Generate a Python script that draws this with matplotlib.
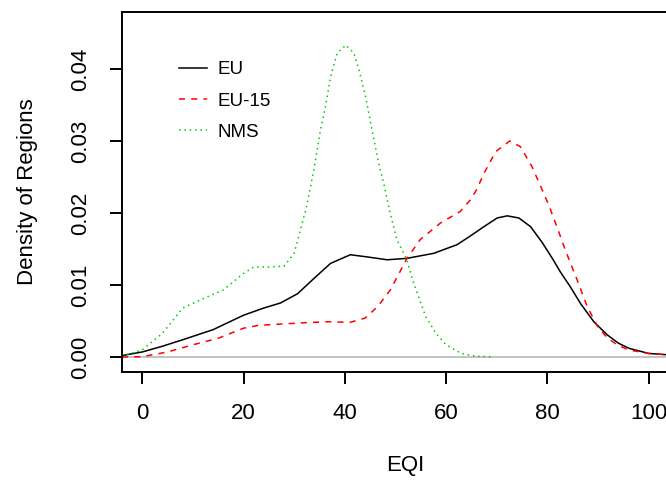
import matplotlib
matplotlib.use("Agg")
import matplotlib.pyplot as plt

plt.rcParams['font.family'] = ['Liberation Sans', 'DejaVu Sans']

# density curves
eu_x = [-4, 0, 4, 8, 14, 20, 24, 27.3, 30.7, 33.9, 37.2, 41.1, 44.4, 48.4, 52.3, 57.6,
        62.2, 64.8, 67.5, 70.1, 72.1, 74.4, 76.7, 79.0, 81.0, 82.6, 84.6, 86.6, 89.2,
        91.8, 94.1, 96.2, 100, 108]
eu_y = [0.0002, 0.0007, 0.0015, 0.0024, 0.0038, 0.0058, 0.0068, 0.0075, 0.0088, 0.0109,
        0.0130, 0.0142, 0.0139, 0.0135, 0.0137, 0.0144, 0.0156, 0.0168, 0.0181, 0.0193,
        0.0196, 0.0193, 0.0181, 0.0159, 0.0137, 0.0118, 0.0097, 0.0074, 0.0049, 0.0031,
        0.0019, 0.0012, 0.0005, 0.0001]

eu15_x = [-4, 0, 5, 10, 15, 20, 23, 28, 33, 37, 41, 44, 46.5, 49, 52.3, 54.9, 58.9,
          62.8, 64.8, 66.1, 67.5, 69.8, 72.6, 74.7, 77.0, 78.7, 80.3, 81.9, 83.6, 85.9,
          87.9, 89.9, 91.8, 93.8, 96, 100, 108]
eu15_y = [0.0, 0.00005, 0.0007, 0.0017, 0.0026, 0.0040, 0.0044, 0.0046, 0.0048, 0.0049,
          0.0048, 0.0054, 0.0070, 0.0093, 0.0137, 0.0163, 0.0186, 0.0202, 0.0218, 0.0233,
          0.0255, 0.0285, 0.0300, 0.0292, 0.0264, 0.0237, 0.0211, 0.0181, 0.0148, 0.0107,
          0.0070, 0.0043, 0.0027, 0.0017, 0.0010, 0.0005, 0.0001]

nms_x = [-4, 0, 4, 8, 12, 16, 20, 22, 25, 28, 30, 32.4, 33.9, 35.2, 36.2, 37.2, 38.5,
         40.2, 41.8, 42.8, 44.1, 45.4, 46.7, 47.7, 49.0, 50.3, 52.3, 53.3, 56, 58, 60,
         63, 66, 69.5]
nms_y = [0.0001, 0.0010, 0.0033, 0.0068, 0.0081, 0.0093, 0.0116, 0.0125, 0.0125, 0.0126,
         0.0144, 0.0207, 0.0260, 0.0315, 0.0348, 0.0389, 0.0422, 0.0433, 0.0422, 0.0399,
         0.0362, 0.0315, 0.0269, 0.0241, 0.0199, 0.0163, 0.0135, 0.0109, 0.0056, 0.0033,
         0.0017, 0.0005, 0.0001, 0.0]

x_ticks = [0, 20, 40, 60, 80, 100]
y_ticks = [0.00, 0.01, 0.02, 0.03, 0.04]
y_tick_labels = ["0.00", "0.01", "0.02", "0.03", "0.04"]

fig = plt.figure(figsize=(6.66, 4.8), dpi=100)
# plot box runs past the right edge of the picture, like the reference
ax = fig.add_axes([122 / 666, 1 - 372 / 480, 567 / 666, 360 / 480])
ax.set_xlim(-4, 108)
ax.set_ylim(-0.00208, 0.0479)

ax.axhline(0, color='#BEBEBE', linewidth=1.3, zorder=1)
ax.plot(eu_x, eu_y, color='black', linewidth=1.1, label='EU')
ax.plot(eu15_x, eu15_y, color='#FF0000', linewidth=1.1, linestyle=(0, (4, 4)), label='EU-15')
ax.plot(nms_x, nms_y, color='#00CD00', linewidth=1.1, linestyle=(0, (1, 2.5)), label='NMS')

for s in ax.spines.values():
    s.set_linewidth(1.4)

ax.set_xticks(x_ticks)
ax.set_yticks(y_ticks)
ax.set_yticklabels(y_tick_labels, rotation=90, va='center')
ax.tick_params(axis='both', length=8.5, width=1.4, labelsize=16, direction='out')
ax.tick_params(axis='x', pad=14)
ax.tick_params(axis='y', pad=14)

ax.set_xlabel('EQI', fontsize=16, labelpad=22)
ax.set_ylabel('Density of Regions', fontsize=16, labelpad=23)

ax.legend(loc='upper left', bbox_to_anchor=(0.07, 0.91), frameon=False, fontsize=13.5,
          handlelength=1.5, handletextpad=0.6, labelspacing=0.75)

fig.savefig('out.png', dpi=100)
